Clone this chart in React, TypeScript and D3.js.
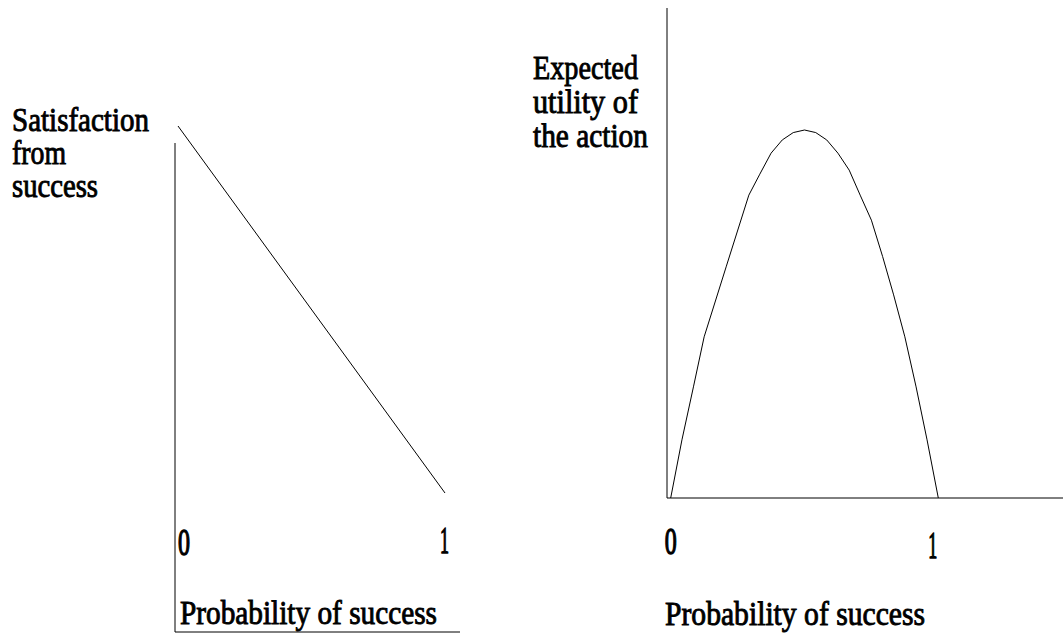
import React from "react";
import * as d3 from "d3";

// Left panel: satisfaction from success vs probability of success
const leftProb = [0, 1];
const leftSatisfaction = [1, 0];

// Right panel: expected utility of the action vs probability of success
const rightProb = [0, 0.042, 0.085, 0.125, 0.208, 0.292, 0.333, 0.375, 0.417, 0.458, 0.5, 0.542, 0.583, 0.625, 0.667, 0.708, 0.75, 0.792, 0.833, 0.875, 0.917, 0.958, 1];
const rightUtility = [0, 0.158, 0.302, 0.438, 0.63, 0.823, 0.88, 0.937, 0.973, 0.993, 1, 0.993, 0.973, 0.937, 0.891, 0.823, 0.755, 0.656, 0.552, 0.438, 0.302, 0.158, 0];

const tickLabels = ["0", "1"];
const leftYLabel = ["Satisfaction", "from", "success"];
const rightYLabel = ["Expected", "utility of", "the action"];
const xLabel = "Probability of success";

const FONT = "'Liberation Serif', 'DejaVu Serif', serif";

export default function App() {
  const W = 1063, H = 635;

  // left scales
  const xL = d3.scaleLinear().domain([0, 1]).range([178, 445]);
  const yL = d3.scaleLinear().domain([0, 1]).range([493, 126]);
  // right scales
  const xR = d3.scaleLinear().domain([0, 1]).range([670.7, 938.3]);
  const yR = d3.scaleLinear().domain([0, 1]).range([498, 130]);

  const lineL = d3.line<number>().x((_, i) => xL(leftProb[i])).y((d) => yL(d));
  const lineR = d3.line<number>().x((_, i) => xR(rightProb[i])).y((d) => yR(d));

  const leftYWidths = [137, 54, 86];
  const rightYWidths = [105, 105, 115];
  const tickYL = [555, 553];
  const tickYR = [554, 558];
  const tickW = [12, 9];

  const txt = (s: string, x: number, y: number, w: number, size = 34, sw = 0.9, key?: string) => (
    <text key={key ?? s + x + y} x={x} y={y} fontFamily={FONT} fontSize={size} fill="#000"
      stroke="#000" strokeWidth={sw}
      textLength={w} lengthAdjust="spacingAndGlyphs">{s}</text>
  );

  return (
    <svg width={W} height={H} style={{ position: "absolute", left: 0, top: 0, background: "#fff" }}>
      {/* Left panel axes */}
      <line x1={175} y1={143} x2={175} y2={632} stroke="#000" strokeWidth={1} />
      <line x1={175} y1={632} x2={460} y2={632} stroke="#000" strokeWidth={1} />
      <path d={lineL(leftSatisfaction) ?? ""} fill="none" stroke="#000" strokeWidth={1} />
      {leftYLabel.map((s, i) => txt(s, 12, 131 + i * 33, leftYWidths[i], 33, 0.9, "ly" + i))}
      {tickLabels.map((s, i) => txt(s, xL(+s) + (i === 0 ? 0 : -5), tickYL[i], tickW[i], 37, 1.4, "lt" + i))}
      {txt(xLabel, 180, 624, 257, 33, 0.9, "lx")}

      {/* Right panel axes */}
      <line x1={667} y1={8} x2={667} y2={498} stroke="#000" strokeWidth={1} />
      <line x1={667} y1={498} x2={1063} y2={498} stroke="#000" strokeWidth={1} />
      <path d={lineR(rightUtility) ?? ""} fill="none" stroke="#000" strokeWidth={1} strokeLinejoin="round" />
      {rightYLabel.map((s, i) => txt(s, 533, 79 + i * 34, rightYWidths[i], 33, 0.9, "ry" + i))}
      {tickLabels.map((s, i) => txt(s, xR(+s) + (i === 0 ? -6 : -10), tickYR[i], tickW[i], 37, 1.4, "rt" + i))}
      {txt(xLabel, 665, 625, 260, 33, 0.9, "rx")}
    </svg>
  );
}
